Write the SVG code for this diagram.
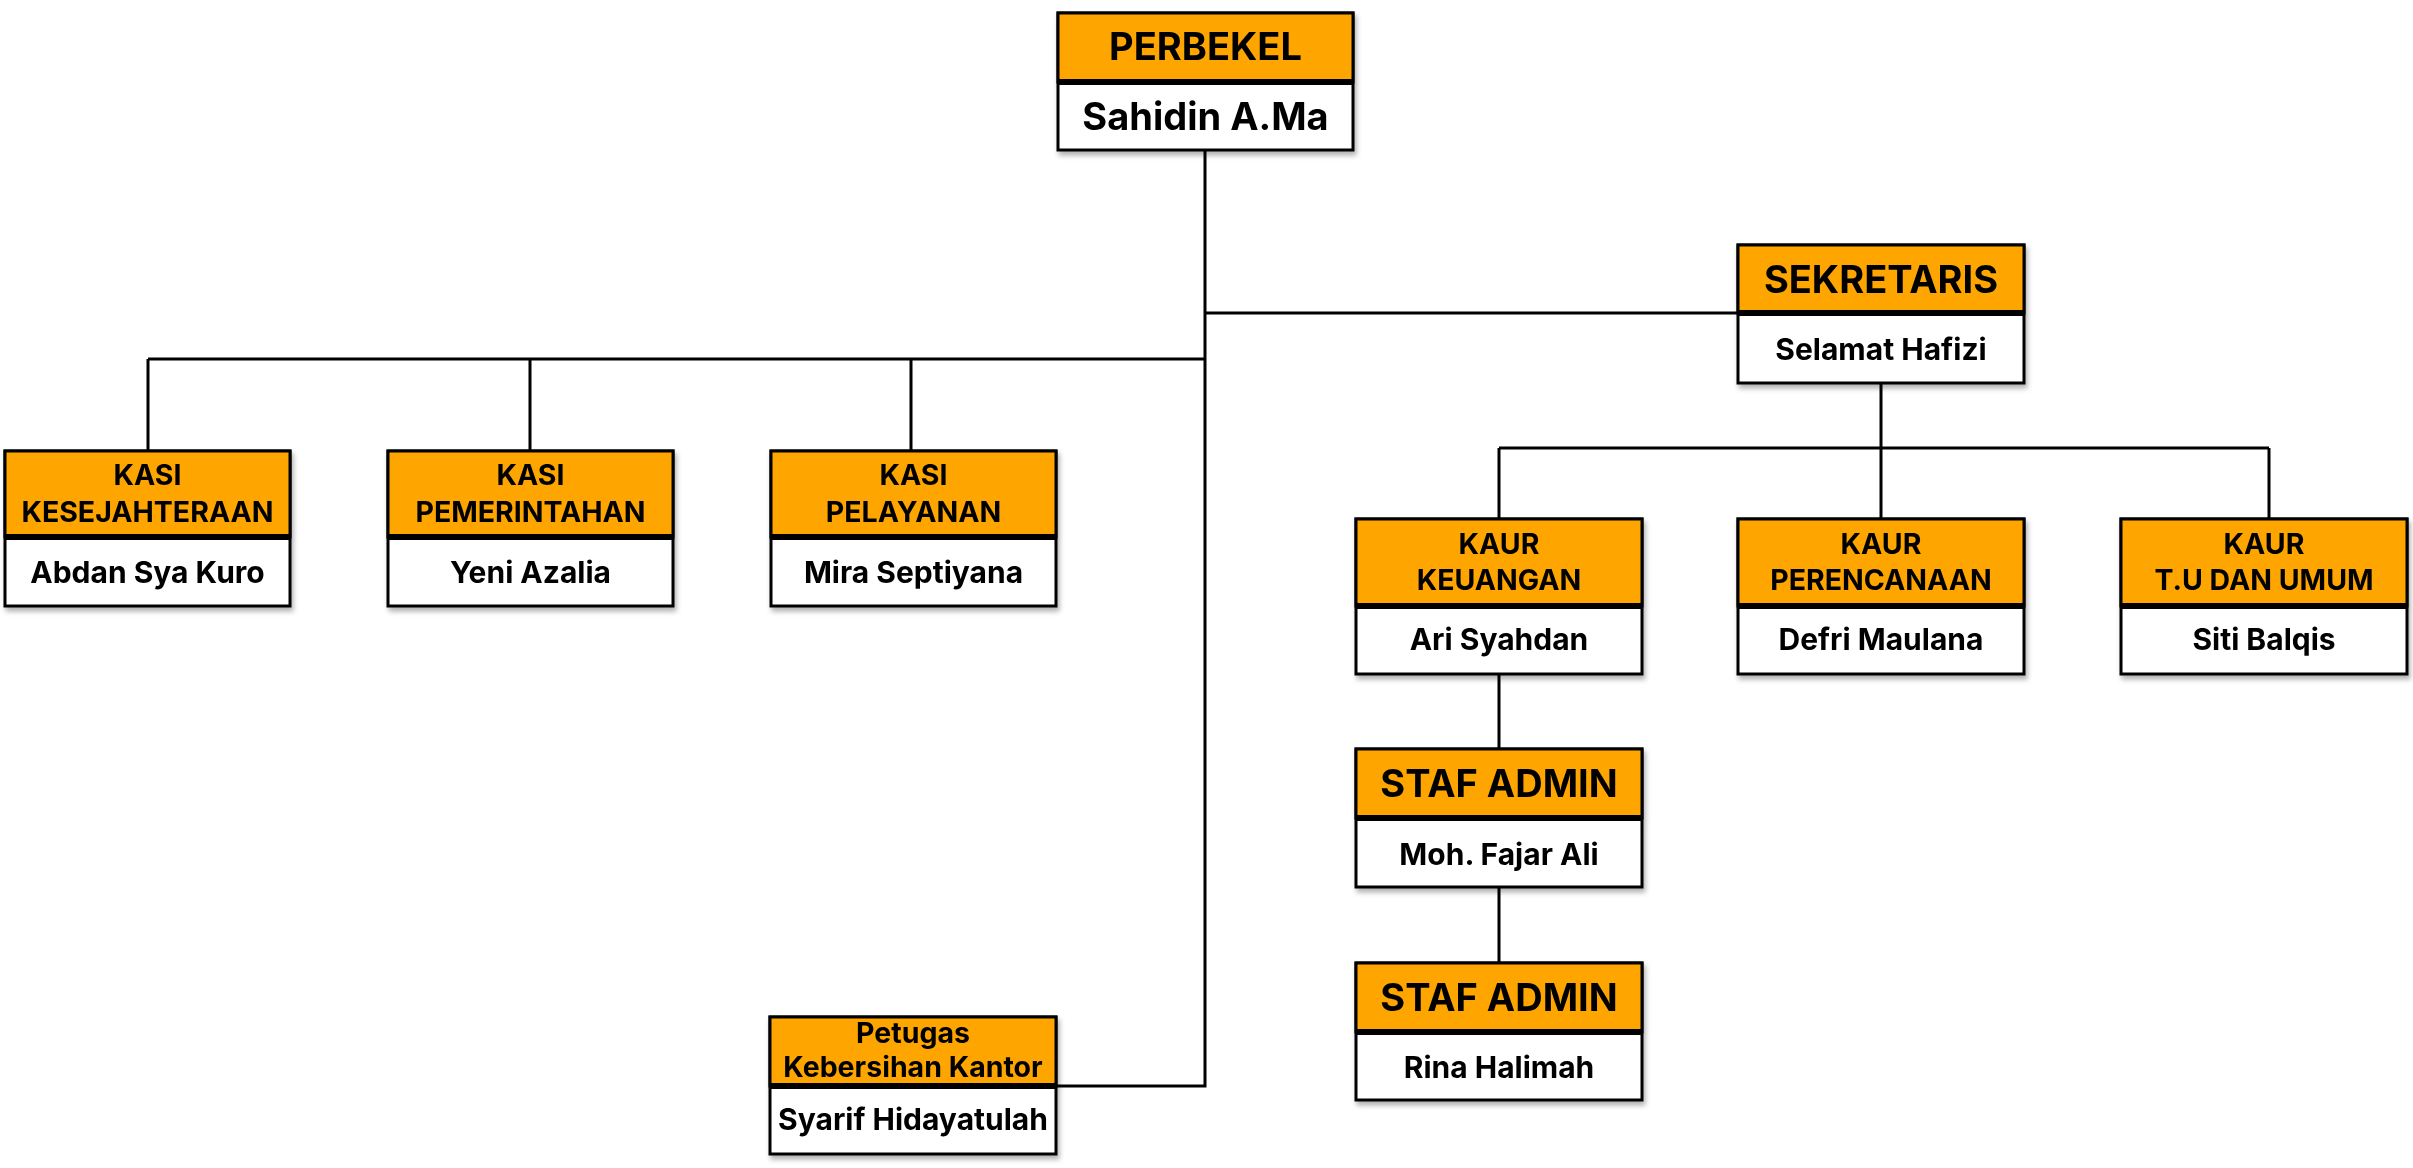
<svg xmlns="http://www.w3.org/2000/svg" width="2413" height="1168" viewBox="0 0 2413 1168">
<defs>
<filter id="sh" x="-5%" y="-5%" width="112%" height="120%">
<feDropShadow dx="2" dy="4" stdDeviation="2.5" flood-color="#000" flood-opacity="0.3"/>
</filter>
<style>
.hd{fill:#FFA500;stroke:#000;stroke-width:3}
.bd{fill:#fff;stroke:#000;stroke-width:3}
.dv{stroke:#000;stroke-width:6}
.t{font-family:Inter,"Liberation Sans",sans-serif;font-weight:700;fill:#000;text-anchor:middle}
.big{font-size:38px}
.bign{font-size:38px}
.sm{font-size:28.5px}
.nm{font-size:30px}
.cn{fill:none;stroke:#000;stroke-width:3}
</style>
</defs>
<rect width="2413" height="1168" fill="#fff"/>
<g id="connectors" class="cn">
<path d="M1205 150 V1086 H1056"/>
<path d="M1205 313 H1738"/>
<path d="M148 359 H1205"/>
<path d="M148 359 V451 M530 359 V451 M911 359 V451"/>
<path d="M1881 383 V519"/>
<path d="M1499 448 H2269"/>
<path d="M1499 448 V519 M2269 448 V519"/>
<path d="M1499 674 V749 M1499 887 V963"/>
</g>
<g id="perbekel" filter="url(#sh)">
<rect class="bd" x="1058" y="13" width="295" height="137"/>
<rect class="hd" x="1058" y="13" width="295" height="69"/>
<line class="dv" x1="1058" y1="82" x2="1353" y2="82"/>
<text class="t big" x="1205.5" y="60">PERBEKEL</text>
<text class="t bign" x="1205.5" y="130">Sahidin A.Ma</text>
</g>
<g id="sekretaris" filter="url(#sh)">
<rect class="bd" x="1738" y="245" width="286" height="138"/>
<rect class="hd" x="1738" y="245" width="286" height="68"/>
<line class="dv" x1="1738" y1="313" x2="2024" y2="313"/>
<text class="t big" x="1881" y="293">SEKRETARIS</text>
<text class="t nm" x="1881" y="360">Selamat Hafizi</text>
</g>
<g id="kasi-kesejahteraan" filter="url(#sh)">
<rect class="bd" x="5" y="451" width="285" height="155"/>
<rect class="hd" x="5" y="451" width="285" height="86"/>
<line class="dv" x1="5" y1="537" x2="290" y2="537"/>
<text class="t sm" x="147.5" y="485">KASI</text>
<text class="t sm" x="147.5" y="522">KESEJAHTERAAN</text>
<text class="t nm" x="147.5" y="583">Abdan Sya Kuro</text>
</g>
<g id="kasi-pemerintahan" filter="url(#sh)">
<rect class="bd" x="388" y="451" width="285" height="155"/>
<rect class="hd" x="388" y="451" width="285" height="86"/>
<line class="dv" x1="388" y1="537" x2="673" y2="537"/>
<text class="t sm" x="530.5" y="485">KASI</text>
<text class="t sm" x="530.5" y="522">PEMERINTAHAN</text>
<text class="t nm" x="530.5" y="583">Yeni Azalia</text>
</g>
<g id="kasi-pelayanan" filter="url(#sh)">
<rect class="bd" x="771" y="451" width="285" height="155"/>
<rect class="hd" x="771" y="451" width="285" height="86"/>
<line class="dv" x1="771" y1="537" x2="1056" y2="537"/>
<text class="t sm" x="913.5" y="485">KASI</text>
<text class="t sm" x="913.5" y="522">PELAYANAN</text>
<text class="t nm" x="913.5" y="583">Mira Septiyana</text>
</g>
<g id="kaur-keuangan" filter="url(#sh)">
<rect class="bd" x="1356" y="519" width="286" height="155"/>
<rect class="hd" x="1356" y="519" width="286" height="87"/>
<line class="dv" x1="1356" y1="606" x2="1642" y2="606"/>
<text class="t sm" x="1499" y="554">KAUR</text>
<text class="t sm" x="1499" y="590">KEUANGAN</text>
<text class="t nm" x="1499" y="650">Ari Syahdan</text>
</g>
<g id="kaur-perencanaan" filter="url(#sh)">
<rect class="bd" x="1738" y="519" width="286" height="155"/>
<rect class="hd" x="1738" y="519" width="286" height="87"/>
<line class="dv" x1="1738" y1="606" x2="2024" y2="606"/>
<text class="t sm" x="1881" y="554">KAUR</text>
<text class="t sm" x="1881" y="590">PERENCANAAN</text>
<text class="t nm" x="1881" y="650">Defri Maulana</text>
</g>
<g id="kaur-tu-umum" filter="url(#sh)">
<rect class="bd" x="2121" y="519" width="286" height="155"/>
<rect class="hd" x="2121" y="519" width="286" height="87"/>
<line class="dv" x1="2121" y1="606" x2="2407" y2="606"/>
<text class="t sm" x="2264" y="554">KAUR</text>
<text class="t sm" x="2264" y="590">T.U DAN UMUM</text>
<text class="t nm" x="2264" y="650">Siti Balqis</text>
</g>
<g id="staf-admin-1" filter="url(#sh)">
<rect class="bd" x="1356" y="749" width="286" height="138"/>
<rect class="hd" x="1356" y="749" width="286" height="69"/>
<line class="dv" x1="1356" y1="818" x2="1642" y2="818"/>
<text class="t big" x="1499" y="797">STAF ADMIN</text>
<text class="t nm" x="1499" y="865">Moh. Fajar Ali</text>
</g>
<g id="staf-admin-2" filter="url(#sh)">
<rect class="bd" x="1356" y="963" width="286" height="137"/>
<rect class="hd" x="1356" y="963" width="286" height="69"/>
<line class="dv" x1="1356" y1="1032" x2="1642" y2="1032"/>
<text class="t big" x="1499" y="1011">STAF ADMIN</text>
<text class="t nm" x="1499" y="1078">Rina Halimah</text>
</g>
<g id="petugas-kebersihan" filter="url(#sh)">
<rect class="bd" x="770" y="1017" width="286" height="137"/>
<rect class="hd" x="770" y="1017" width="286" height="69"/>
<line class="dv" x1="770" y1="1086" x2="1056" y2="1086"/>
<text class="t sm" x="913" y="1043">Petugas</text>
<text class="t sm" x="913" y="1077">Kebersihan Kantor</text>
<text class="t nm" x="913" y="1130">Syarif Hidayatulah</text>
</g>
</svg>
